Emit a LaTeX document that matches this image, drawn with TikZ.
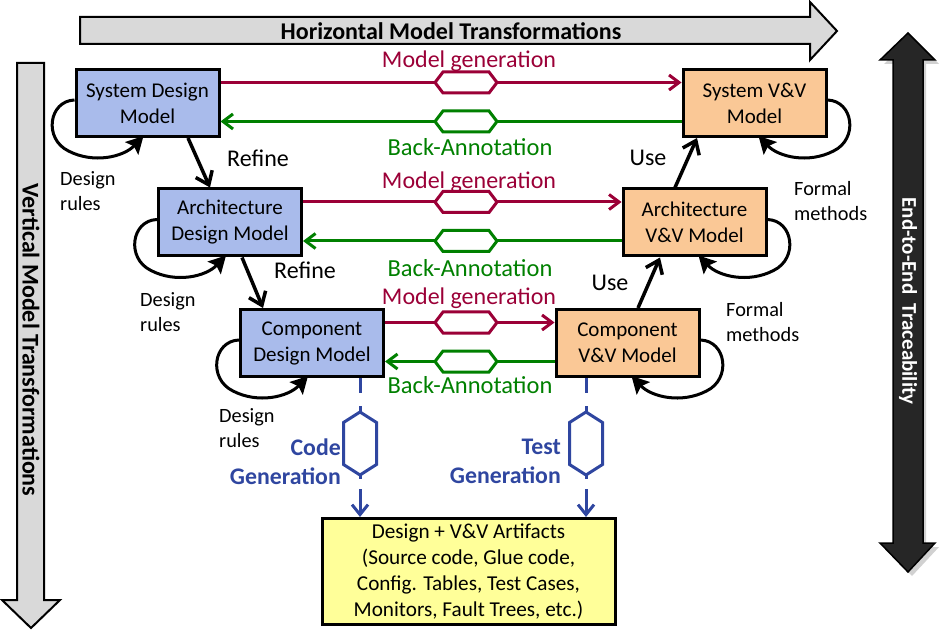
\documentclass[tikz,border=0pt]{standalone}
\usepackage{fontspec}
\setmainfont{Carlito}
\usetikzlibrary{arrows.meta,calc}
\definecolor{dblue}{RGB}{169,187,235}
\definecolor{vorange}{RGB}{250,200,150}
\definecolor{artyellow}{RGB}{255,255,153}
\definecolor{mgred}{RGB}{155,0,55}
\definecolor{bagreen}{RGB}{0,128,0}
\definecolor{genblue}{RGB}{47,70,160}
\definecolor{bandgray}{RGB}{217,217,217}
\definecolor{tracedark}{RGB}{38,38,38}
\begin{document}
\begin{tikzpicture}[x=1pt,y=-1pt,
  box/.style={draw=black,line width=3pt,minimum width=143pt,minimum height=67pt,align=center,inner sep=0pt,font=\fontsize{21}{26}\selectfont},
  dbox/.style={box,fill=dblue},
  vbox/.style={box,fill=vorange},
  mgline/.style={draw=mgred,line width=3pt,-{Straight Barb[length=10pt,width=15pt]}},
  baline/.style={draw=bagreen,line width=3pt,-{Straight Barb[length=10pt,width=15pt]}},
  genline/.style={draw=genblue,line width=3pt,-{Straight Barb[length=10pt,width=16pt]}},
  refarrow/.style={draw=black,line width=3.5pt,-{Straight Barb[length=12pt,width=18pt]}},
  loopline/.style={draw=black,line width=3pt,-{Stealth[length=17pt,width=18pt,inset=3pt]}},
  hexh/.pic={\draw[line width=3pt,fill=white] (-31,0) -- (-23,-10.5) -- (23,-10.5) -- (31,0) -- (23,10.5) -- (-23,10.5) -- cycle;},
  hexv/.pic={\draw[line width=3pt,fill=white] (0,-31.5) -- (16.5,-21) -- (16.5,21) -- (0,31.5) -- (-16.5,21) -- (-16.5,-21) -- cycle;},
  mglabel/.style={text=mgred,font=\fontsize{24}{26}\selectfont},
  balabel/.style={text=bagreen,font=\fontsize{24.5}{26}\selectfont},
  bklabel/.style={font=\fontsize{24}{26}\selectfont},
  smlabel/.style={align=left,anchor=north west,inner sep=0pt,font=\fontsize{20.3}{25.5}\selectfont},
  genlabel/.style={align=right,anchor=east,inner sep=0pt,text=genblue,font=\bfseries\fontsize{23.8}{29}\selectfont},
  bandtext/.style={font=\bfseries\fontsize{24}{26}\selectfont}
]
\useasboundingbox (0,0) rectangle (945,636);

% big band arrows
\draw[line width=2pt,fill=bandgray] (80,17) -- (810,17) -- (810,2) -- (837,31) -- (810,60) -- (810,44) -- (80,44) -- cycle;
\node[bandtext] (htitle) at (451,31) {Horizontal Model Transformations};
\draw[line width=2pt,fill=bandgray] (17,63) -- (44,63) -- (44,600) -- (60,600) -- (31,628) -- (2,600) -- (17,600) -- cycle;
\node[bandtext,rotate=-90] (vtitle) at (31,340) {Vertical Model Transformations};
\fill[black!30,opacity=0.6] (912,37) -- (939,64) -- (926,64) -- (926,547) -- (939,547) -- (912,576) -- (884,547) -- (897,547) -- (897,64) -- (884,64) -- cycle;
\draw[line width=1.5pt,fill=tracedark] (908,33) -- (935,60) -- (923,60) -- (923,543) -- (935,543) -- (908,572) -- (880,543) -- (893,543) -- (893,60) -- (880,60) -- cycle;
\node[text=white,rotate=-90,font=\bfseries\fontsize{21}{24}\selectfont] (ttitle) at (908,301) {End-to-End~~Traceability};

% model boxes
\node[dbox] (sd) at (147.5,103) {System Design\\Model};
\node[dbox] (ad) at (230,222.5) {Architecture\\Design Model};
\node[dbox] (cd) at (312,343) {Component\\Design Model};
\node[vbox] (sv) at (754.5,103) {System V\&V\\Model};
\node[vbox] (av) at (694.5,222.5) {Architecture\\V\&V Model};
\node[vbox] (cv) at (627.5,343) {Component\\V\&V Model};
\node[box,fill=artyellow,minimum width=293pt,minimum height=106pt,font=\fontsize{21.2}{25.8}\selectfont] (art) at (468.5,571.5)
  {Design + V\&V Artifacts\\(Source code, Glue code,\\Config. Tables, Test Cases,\\Monitors, Fault Trees, etc.)};

\coordinate (hx) at (466,0);
% horizontal transformations
\foreach \d/\v/\i in {sd/sv/1,ad/av/2,cd/cv/3}{
  \path ([yshift=-14.5pt]\d.north east) coordinate (m\i);
  \path ([yshift=16.5pt]\d.south east) coordinate (b\i);
  \draw[mgline] (m\i) -- (m\i -| \v.west);
  \draw[baline] (b\i -| \v.west) -- (b\i);
  \pic[mgred] at (m\i -| hx) {hexh};
  \pic[bagreen] at (b\i -| hx) {hexh};
}
\node[mglabel] (mgl1) at (469,61) {Model generation};
\node[balabel] (bal1) at (470,147) {Back-Annotation};
\node[mglabel] (mgl2) at (469,182) {Model generation};
\node[balabel] (bal2) at (470,268) {Back-Annotation};
\node[mglabel] (mgl3) at (469,298) {Model generation};
\node[balabel] (bal3) at (470,385) {Back-Annotation};

% refine / use
\draw[refarrow] ([xshift=40.5pt]sd.south) -- ([xshift=-20pt]ad.north);
\draw[refarrow] ([xshift=12pt]ad.south) -- ([xshift=-49pt]cd.north);
\draw[refarrow] ([xshift=-19.5pt]av.north) -- ([xshift=-57.5pt]sv.south);
\draw[refarrow] ([xshift=10.5pt]cv.north) -- ([xshift=-34.5pt]av.south);
\node[bklabel] (ref1) at (258,158) {Refine};
\node[bklabel] (ref2) at (305,270) {Refine};
\node[bklabel] (use1) at (648,158) {Use};
\node[bklabel] (use2) at (610,283) {Use};

% self loops
\foreach \d in {sd,ad,cd}{
  \draw[loopline,shift={(\d.north west)}] (0,32) .. controls (-26,33) and (-31,71) .. (-6,83) .. controls (19,96) and (49,89) .. (69,68);
}
\foreach \v in {sv,av,cv}{
  \draw[loopline,shift={(\v.north east)}] (0,32) .. controls (26,33) and (31,71) .. (6,83) .. controls (-19,96) and (-49,89) .. (-69,68);
}
\node[smlabel] (dr1) at (60,171) {Design\\rules};
\node[smlabel] (dr2) at (140,292) {Design\\rules};
\node[smlabel] (dr3) at (219,408) {Design\\rules};
\node[smlabel] (fm1) at (794,181) {Formal\\methods};
\node[smlabel] (fm2) at (726,302) {Formal\\methods};

% generation
\draw[genline,dash pattern=on 15pt off 13pt on 73pt off 10pt on 30pt] ([xshift=48pt]cd.south) coordinate (cg) -- (cg |- art.north);
\draw[genline,dash pattern=on 15pt off 13pt on 73pt off 10pt on 30pt] ([xshift=-41.5pt]cv.south) coordinate (tg) -- (tg |- art.north);
\pic[genblue] at (cg |- 0,443.5) {hexv};
\pic[genblue] at (tg |- 0,443.5) {hexv};
\node[genlabel] (cgl) at (341,461.5) {Code\\Generation};
\node[genlabel] (tgl) at (561,461.5) {Test\\Generation};
\end{tikzpicture}
\end{document}
